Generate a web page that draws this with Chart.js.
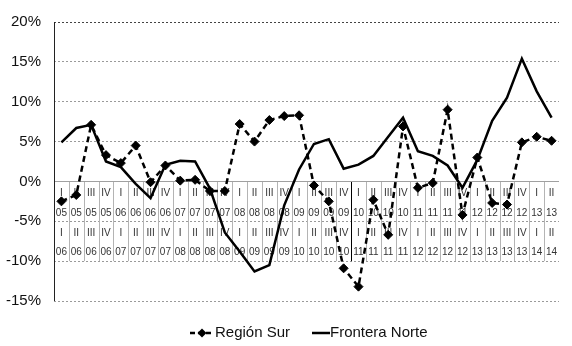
<!DOCTYPE html>
<html>
<head>
<meta charset="utf-8">
<script src="https://cdn.jsdelivr.net/npm/chart.js@4.4.1/dist/chart.umd.min.js"></script>
<style>
  html, body { margin: 0; padding: 0; background: #fff; }
</style>
</head>
<body>
<canvas id="chart" width="572" height="346"></canvas>
<script>
// period compared: quarter/year of origin -> quarter/year one year later
const quarterFrom = ["I","II","III","IV","I","II","III","IV","I","II","III","IV","I","II","III","IV","I","II","III","IV","I","II","III","IV","I","II","III","IV","I","II","III","IV","I","II"];
const yearFrom    = ["05","05","05","05","06","06","06","06","07","07","07","07","08","08","08","08","09","09","09","09","10","10","10","10","11","11","11","11","12","12","12","12","13","13"];
const quarterTo   = ["I","II","III","IV","I","II","III","IV","I","II","III","IV","I","II","III","IV","I","II","III","IV","I","II","III","IV","I","II","III","IV","I","II","III","IV","I","II"];
const yearTo      = ["06","06","06","06","07","07","07","07","08","08","08","08","09","09","09","09","10","10","10","10","11","11","11","11","12","12","12","12","13","13","13","13","14","14"];

// annual change, %
const regionSur = [-2.5, -1.7, 7.1, 3.3, 2.3, 4.5, -0.1, 2.0, 0.1, 0.2, -1.2, -1.2,
  7.2, 5.0, 7.7, 8.2, 8.3, -0.5, -2.5, -10.9, -13.2, -2.3, -6.7, 6.9,
  -0.8, -0.2, 9.0, -4.2, 3.0, -2.7, -2.9, 4.9, 5.6, 5.1];
const fronteraNorte = [4.9, 6.7, 7.1, 2.5, 1.8, -0.3, -2.1, 2.1, 2.6, 2.5, -0.9, -6.4,
  -8.8, -11.3, -10.5, -3.0, 1.5, 4.7, 5.3, 1.6, 2.1, 3.2, 5.6, 8.0,
  3.8, 3.2, 2.0, -0.8, 2.7, 7.6, 10.5, 15.4, 11.3, 8.0];

const yMin = -15, yMax = 20, yStep = 5;

const labels = quarterFrom.map((q, i) => q + " " + yearFrom[i] + " - " + quarterTo[i] + " " + yearTo[i]);

const FONT = "'Liberation Sans', Arial, sans-serif";

// table of periods drawn inside the plot, between 0% and -10%
const periodTable = {
  id: "periodTable",
  beforeDatasetsDraw(chart) {
    const { ctx, chartArea, scales: { x, y } } = chart;
    const top = y.getPixelForValue(0);
    const bottom = y.getPixelForValue(-10);
    ctx.save();
    ctx.lineWidth = 1;
    for (let i = 1; i < labels.length; i++) {
      const bx = Math.round((x.getPixelForValue(i - 1) + x.getPixelForValue(i)) / 2) + 0.5;
      ctx.strokeStyle = i === 20 ? "#000" : "#b4b4b4";
      ctx.beginPath();
      ctx.moveTo(bx, top);
      ctx.lineTo(bx, bottom);
      ctx.stroke();
    }
    ctx.strokeStyle = "#a0a0a0";
    ctx.beginPath();
    ctx.moveTo(chartArea.left, Math.round(top) + 0.5);
    ctx.lineTo(chartArea.right, Math.round(top) + 0.5);
    ctx.stroke();

    ctx.fillStyle = "#333";
    ctx.font = "10px " + FONT;
    ctx.textAlign = "center";
    ctx.textBaseline = "middle";
    const rows = [[quarterFrom, -1.45], [yearFrom, -4.0], [quarterTo, -6.5], [yearTo, -8.85]];
    rows.forEach(([texts, v]) => {
      const ty = y.getPixelForValue(v);
      texts.forEach((t, i) => ctx.fillText(t, x.getPixelForValue(i), ty));
    });

    // vertical axis line
    ctx.strokeStyle = "#222";
    ctx.beginPath();
    ctx.moveTo(chartArea.left + 0.5, chartArea.top);
    ctx.lineTo(chartArea.left + 0.5, chartArea.bottom);
    ctx.stroke();
    ctx.restore();
  },
  afterDraw(chart) {
    const { ctx } = chart;
    const ly = 333;
    ctx.save();
    ctx.strokeStyle = "#000";
    ctx.lineWidth = 2.5;
    // Región Sur sample
    ctx.setLineDash([5, 3]);
    ctx.beginPath();
    ctx.moveTo(190, ly);
    ctx.lineTo(214, ly);
    ctx.stroke();
    ctx.setLineDash([]);
    ctx.fillStyle = "#000";
    ctx.beginPath();
    ctx.moveTo(202, ly - 4.5);
    ctx.lineTo(206.5, ly);
    ctx.lineTo(202, ly + 4.5);
    ctx.lineTo(197.5, ly);
    ctx.closePath();
    ctx.fill();
    // Frontera Norte sample
    ctx.beginPath();
    ctx.moveTo(312, ly);
    ctx.lineTo(330, ly);
    ctx.stroke();

    ctx.font = "15px " + FONT;
    ctx.fillStyle = "#111";
    ctx.textAlign = "left";
    ctx.textBaseline = "middle";
    ctx.fillText("Región Sur", 215, ly);
    ctx.fillText("Frontera Norte", 330, ly);
    ctx.restore();
  }
};

new Chart(document.getElementById("chart"), {
  type: "line",
  data: {
    labels: labels,
    datasets: [
      {
        label: "Región Sur",
        data: regionSur,
        borderColor: "#000",
        backgroundColor: "#000",
        borderWidth: 2.5,
        borderDash: [6, 4],
        pointStyle: "rectRot",
        pointRadius: 4.5,
        pointBorderWidth: 1,
        tension: 0
      },
      {
        label: "Frontera Norte",
        data: fronteraNorte,
        borderColor: "#000",
        borderWidth: 2.5,
        pointRadius: 0,
        tension: 0
      }
    ]
  },
  options: {
    responsive: false,
    animation: false,
    devicePixelRatio: 1,
    layout: { padding: { left: 0, right: 13, top: 18, bottom: 45 } },
    plugins: {
      legend: { display: false },
      tooltip: { enabled: false }
    },
    scales: {
      x: {
        display: false,
        offset: true
      },
      y: {
        min: yMin,
        max: yMax,
        afterFit(scale) { scale.width = 54; },
        ticks: {
          stepSize: yStep,
          padding: 13,
          color: "#111",
          font: { family: FONT, size: 15 },
          callback: v => v + "%"
        },
        grid: {
          drawTicks: false,
          color: ctx => (ctx.tick && ctx.tick.value === yMax) ? "#444" : "#9a9a9a",
          lineWidth: 1
        },
        border: { display: false, dash: [2, 2] }
      }
    }
  },
  plugins: [periodTable]
});
</script>
</body>
</html>
